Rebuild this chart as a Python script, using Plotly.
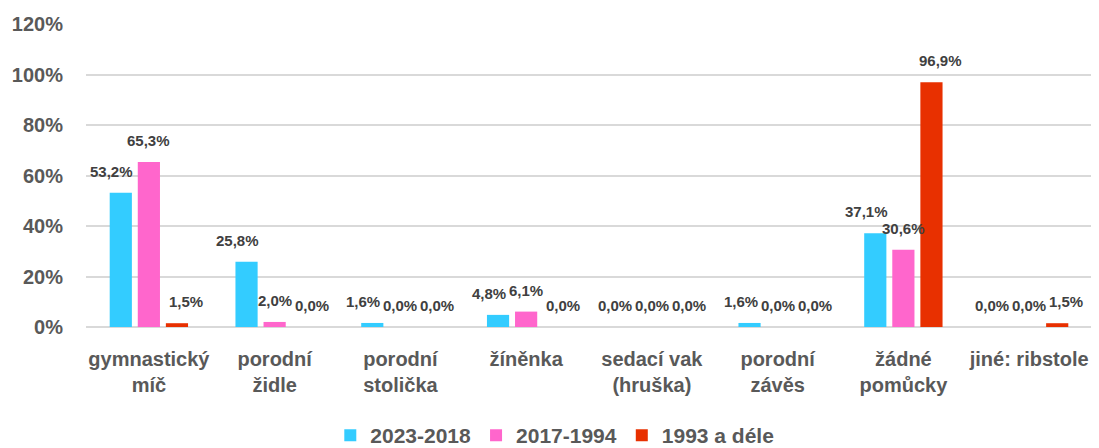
import plotly.graph_objects as go

categories = ["gymnastický<br>míč", "porodní<br>židle", "porodní<br>stolička", "žíněnka",
              "sedací vak<br>(hruška)", "porodní<br>závěs", "žádné<br>pomůcky", "jiné: ribstole"]
series_names = ["2023-2018", "2017-1994", "1993 a déle"]
s2023_2018 = [0.532, 0.258, 0.016, 0.048, 0.0, 0.016, 0.371, 0.0]
s2017_1994 = [0.653, 0.020, 0.0, 0.061, 0.0, 0.0, 0.306, 0.0]
s1993 = [0.015, 0.0, 0.0, 0.0, 0.0, 0.0, 0.969, 0.015]
colors = ["#33CCFF", "#FF66CC", "#E83000"]

FONT = "Liberation Sans"
BARGAP = 0.33
BARGROUPGAP = 0.21
LABEL_SPREAD = 9  # extra px spread between labels in a group

series = [s2023_2018, s2017_1994, s1993]

fig = go.Figure()
for name, vals, col in zip(series_names, series, colors):
    fig.add_trace(go.Bar(
        x=categories, y=vals, name=name,
        marker=dict(color=col, line=dict(color=col, width=0)),
        cliponaxis=False,
    ))

def fmt(v):
    return f"{v*100:.1f}".replace(".", ",") + "%"

n = len(series)
slot = (1 - BARGAP) / n
for i, vals in enumerate(series):
    off = (i - (n - 1) / 2)
    for j, v in enumerate(vals):
        fig.add_annotation(
            x=j + off * slot, y=v, xref="x", yref="y",
            text=fmt(v), showarrow=False,
            xanchor="center", yanchor="bottom",
            xshift=off * LABEL_SPREAD, yshift=11,
            font=dict(family=FONT, size=15, color="#404040", weight="bold"),
        )

fig.update_layout(
    width=1099, height=448,
    margin=dict(l=78, r=15, t=16, b=129, autoexpand=False),
    paper_bgcolor="white", plot_bgcolor="white",
    separators=", ",
    barmode="group", bargap=BARGAP, bargroupgap=BARGROUPGAP,
    font=dict(family=FONT, color="#595959", weight="bold"),
    showlegend=True,
    legend=dict(orientation="h", x=0.466, xanchor="center", y=10, yref="container",
                yanchor="bottom",
                font=dict(size=21, color="#595959", family=FONT, weight="bold"),
                itemsizing="constant", traceorder="normal", itemwidth=30),
)
fig.update_yaxes(range=[0, 1.2], dtick=0.2, tickformat=".0%",
                 showgrid=True, gridcolor="#D9D9D9", gridwidth=1.5,
                 zeroline=True, zerolinecolor="#D9D9D9", zerolinewidth=1.5,
                 tickfont=dict(size=20, color="#595959", family=FONT, weight="bold"),
                 ticklabelstandoff=22)
fig.update_xaxes(tickfont=dict(size=20, color="#595959", family=FONT, weight="bold"),
                 showline=False, tickangle=0, ticklabelstandoff=18)

fig.write_html("out.html")
